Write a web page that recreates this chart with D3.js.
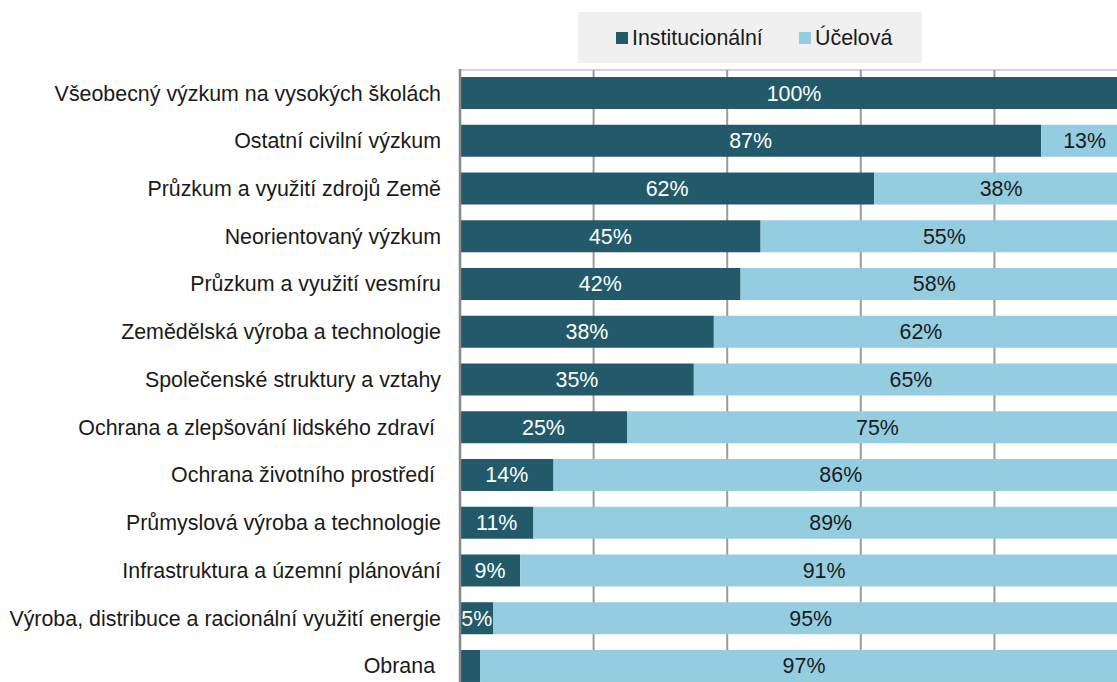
<!DOCTYPE html>
<html>
<head>
<meta charset="utf-8">
<script src="https://cdn.jsdelivr.net/npm/d3@7"></script>
<style>
  body { margin: 0; background: #fff; }
  svg { display: block; font-family: "Liberation Sans", Arial, sans-serif; }
</style>
</head>
<body>
<div class="chart"></div>
<script>
// Categories (top to bottom) and shares in %
const categories = [
  "Všeobecný výzkum na vysokých školách",
  "Ostatní civilní výzkum",
  "Průzkum a využití zdrojů Země",
  "Neorientovaný výzkum",
  "Průzkum a využití vesmíru",
  "Zemědělská výroba a technologie",
  "Společenské struktury a vztahy",
  "Ochrana a zlepšování lidského zdraví ",
  "Ochrana životního prostředí ",
  "Průmyslová výroba a technologie",
  "Infrastruktura a územní plánování",
  "Výroba, distribuce a racionální využití energie",
  "Obrana "
]
const institucionalni = [100, 87, 62, 45, 42, 38, 35, 25, 14, 11, 9, 5, 3]
const ucelova = [0, 13, 38, 55, 58, 62, 65, 75, 86, 89, 91, 95, 97]
const seriesNames = ["Institucionální", "Účelová"]
const gridTicks = [20, 40, 60, 80, 100]

const width = 1117
const height = 682
const fontSize = 21.4
const colors = ["#225a69", "#94cddf"]
const textColors = ["#ffffff", "#1a1a1a"]

const svg = d3.select(".chart").append("svg")
    .attr("width", width)
    .attr("height", height)
    .attr("viewBox", [0, 0, width, height])

// Scales (the 100% end sits beyond the visible frame, as in the original)
const x = d3.scaleLinear().domain([0, 100]).range([460, 1128])
const y = d3.scaleBand()
    .domain(categories)
    .range([70, 689])
    .paddingInner(0.33)
    .paddingOuter(0.147)

// Build stacked data
const rows = categories.map((c, i) => ({ cat: c, "Institucionální": institucionalni[i], "Účelová": ucelova[i] }))
const stacked = d3.stack().keys(seriesNames)(rows)

// Legend
const legend = svg.append("g")
legend.append("rect")
    .attr("x", 578).attr("y", 12)
    .attr("width", 344).attr("height", 51)
    .attr("fill", "#f0f0f0")
const legendX = [616, 799]
seriesNames.forEach((name, i) => {
  legend.append("rect")
      .attr("x", legendX[i]).attr("y", 32)
      .attr("width", 12).attr("height", 12)
      .attr("fill", colors[i])
  legend.append("text")
      .attr("x", legendX[i] + 16).attr("y", 38)
      .attr("dy", "0.35em")
      .attr("font-size", fontSize)
      .attr("fill", "#1a1a1a")
      .text(name)
})

// Top border line
svg.append("line")
    .attr("x1", x(0)).attr("x2", width)
    .attr("y1", 70).attr("y2", 70)
    .attr("stroke", "#d4d4d4")
    .attr("stroke-width", 2)

// Gridlines
svg.append("g")
  .selectAll("line")
  .data(gridTicks)
  .join("line")
    .attr("x1", d => x(d)).attr("x2", d => x(d))
    .attr("y1", 70).attr("y2", height)
    .attr("stroke", "#9a9a9a")
    .attr("stroke-width", 2)

// Bars
const layer = svg.append("g")
  .selectAll("g")
  .data(stacked)
  .join("g")
    .attr("fill", (d, i) => colors[i])

layer.selectAll("rect")
  .data(d => d)
  .join("rect")
    .attr("x", d => x(d[0]))
    .attr("y", d => y(d.data.cat))
    .attr("width", d => x(d[1]) - x(d[0]))
    .attr("height", y.bandwidth())

// Value labels
stacked.forEach((s, si) => {
  svg.append("g")
    .selectAll("text")
    .data(s.filter(d => d[1] - d[0] >= 4))
    .join("text")
      .attr("x", d => (x(d[0]) + x(d[1])) / 2)
      .attr("y", d => y(d.data.cat) + y.bandwidth() / 2)
      .attr("dy", "0.35em")
      .attr("text-anchor", "middle")
      .attr("font-size", fontSize)
      .attr("fill", textColors[si])
      .text(d => (d[1] - d[0]) + "%")
})

// Left axis line
svg.append("line")
    .attr("x1", x(0)).attr("x2", x(0))
    .attr("y1", 69).attr("y2", height)
    .attr("stroke", "#888888")
    .attr("stroke-width", 2.5)

// Category labels
svg.append("g")
  .selectAll("text")
  .data(categories)
  .join("text")
    .attr("x", 441)
    .attr("y", d => y(d) + y.bandwidth() / 2)
    .attr("dy", "0.35em")
    .attr("text-anchor", "end")
    .attr("font-size", fontSize)
    .attr("fill", "#1a1a1a")
    .style("white-space", "pre")
    .text(d => d)
</script>
</body>
</html>
